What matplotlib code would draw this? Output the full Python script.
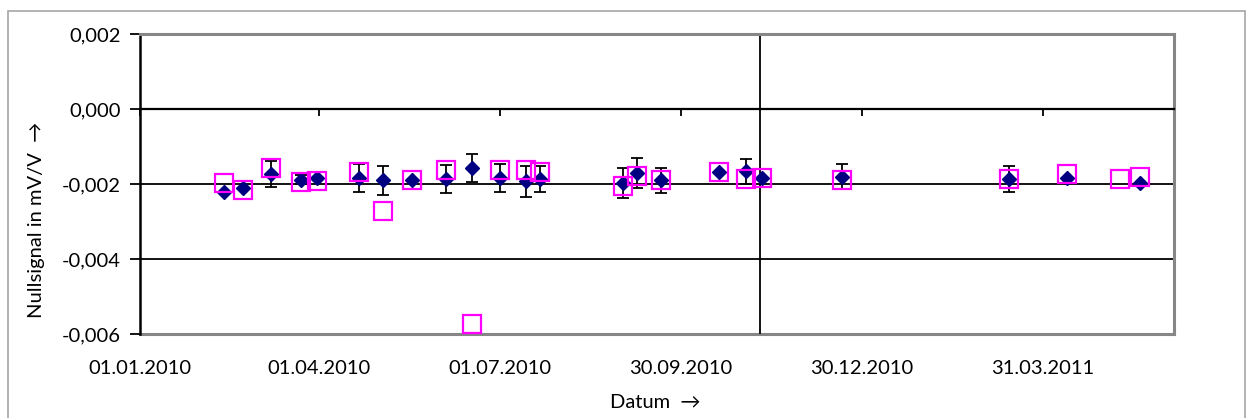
import numpy as np
import matplotlib
matplotlib.use("Agg")
import matplotlib.pyplot as plt
import matplotlib.dates as mdates
import matplotlib.patches as patches
from matplotlib.ticker import FuncFormatter
from datetime import datetime

plt.rcParams['font.family'] = ['Lato', 'DejaVu Sans']

# measurement dates
dates = ["12.02.2010", "22.02.2010", "08.03.2010", "23.03.2010", "31.03.2010",
         "21.04.2010", "03.05.2010", "18.05.2010", "04.06.2010", "17.06.2010",
         "01.07.2010", "14.07.2010", "21.07.2010", "01.09.2010", "08.09.2010",
         "20.09.2010", "19.10.2010", "02.11.2010", "10.11.2010", "20.12.2010",
         "14.03.2011", "12.04.2011", "09.05.2011", "19.05.2011"]

# mean zero signal (diamonds), nan = no value on that day
mittel = [-0.00220, -0.00211, -0.00173, -0.00189, -0.00184,
          -0.00184, -0.00190, -0.00190, -0.00187, -0.00157,
          -0.00184, -0.00193, -0.00187, -0.00197, -0.00171,
          -0.00190, -0.00168, -0.00166, -0.00184, -0.00180,
          -0.00186, -0.00184, np.nan, -0.00197]

# scatter of the zero signal (error bars), nan = none
streuung = [np.nan, np.nan, 0.00034, 0.00012, np.nan,
            0.000365, 0.00039, np.nan, 0.000365, 0.00038,
            0.000365, 0.00042, 0.00034, 0.00040, 0.00040,
            0.00034, np.nan, 0.00033, np.nan, 0.00033,
            0.00034, np.nan, np.nan, np.nan]

# reference measurement (open squares)
referenz = [-0.00197, -0.00217, -0.00157, -0.00195, -0.00191,
            -0.00168, -0.00271, -0.00190, -0.00162, -0.00573,
            -0.00162, -0.00162, -0.00168, -0.00205, -0.00178,
            -0.00190, -0.00168, -0.00186, -0.00184, -0.00189,
            -0.00186, -0.00173, -0.00186, -0.00182]

tick_dates = ["01.01.2010", "01.04.2010", "01.07.2010", "30.09.2010",
              "30.12.2010", "31.03.2011"]
x_start = "01.01.2010"
x_end = "05.06.2011"
marker_date = "09.11.2010"
y_ticks = [-0.006, -0.004, -0.002, 0.000, 0.002]


def d(s):
    return datetime.strptime(s, "%d.%m.%Y")


x = mdates.date2num([d(s) for s in dates])
mittel = np.array(mittel)
streuung = np.array(streuung)
referenz = np.array(referenz)
xt = mdates.date2num([d(s) for s in tick_dates])

W, H = 1246, 418
fig = plt.figure(figsize=(W / 100, H / 100), dpi=100)
ax = fig.add_axes([140 / W, 1 - 334 / H, (1174 - 140) / W, 300 / H])

grau = "#868686"

# outer chart frame
fig.patches.append(patches.Rectangle((8 / W, -0.05), 1237 / W, 1.05 - 10.5 / H,
                                     transform=fig.transFigure, fill=False,
                                     edgecolor="#a6a6a6", linewidth=1.2))

# horizontal gridlines and the marker line
for yv in y_ticks[1:3]:
    ax.axhline(yv, color="black", linewidth=1.3, zorder=1)
ax.axvline(mdates.date2num(d(marker_date)), color="black", linewidth=1.3, zorder=1)

# error bars of the mean values
m = ~np.isnan(streuung)
ax.errorbar(x[m], mittel[m], yerr=streuung[m], fmt="none", ecolor="black",
            elinewidth=1.3, capsize=4.5, capthick=1.3, zorder=3)

ok = ~np.isnan(mittel)
ax.plot(x[ok], mittel[ok], linestyle="none", marker="D", markersize=7,
        color="#000080", zorder=4)
ax.plot(x, referenz, linestyle="none", marker="s", markersize=12.5,
        markerfacecolor="none", markeredgecolor="#ff00ff", markeredgewidth=1.6,
        zorder=5)

ax.set_xlim(mdates.date2num(d(x_start)), mdates.date2num(d(x_end)))
ax.set_ylim(-0.006, 0.002)

# x axis crosses at zero, labels at the bottom
ax.spines["bottom"].set_position(("data", 0))
ax.spines["bottom"].set_color("black")
ax.spines["bottom"].set_linewidth(1.6)
ax.set_xticks(xt)
ax.tick_params(axis="x", direction="out", length=5, width=1.3,
               labelbottom=False, color="black")

ax.spines["left"].set_color("black")
ax.spines["left"].set_linewidth(1.8)
for s in ["top", "right"]:
    ax.spines[s].set_color(grau)
    ax.spines[s].set_linewidth(2.2)

ax.set_yticks(y_ticks)
ax.yaxis.set_major_formatter(FuncFormatter(lambda v, p: f"{v:.3f}".replace(".", ",")))
ax.tick_params(axis="y", direction="out", length=7, width=1.3, pad=7,
               labelsize=14.5, color="black")

sec = ax.secondary_xaxis("bottom")
sec.set_xticks(xt)
sec.xaxis.set_major_formatter(mdates.DateFormatter("%d.%m.%Y"))
sec.tick_params(length=0, pad=19, labelsize=14.5)
sec.spines["bottom"].set_color(grau)
sec.spines["bottom"].set_linewidth(2.2)

fig.text(37 / W, 1 - 220 / H, "Nullsignal in mV/V  \u2192", rotation=90,
         ha="center", va="center", fontsize=14.5)
fig.text(655 / W, 1 - 403 / H, "Datum  \u2192", ha="center", va="center",
         fontsize=14.5)

fig.savefig("out.png", dpi=100)
